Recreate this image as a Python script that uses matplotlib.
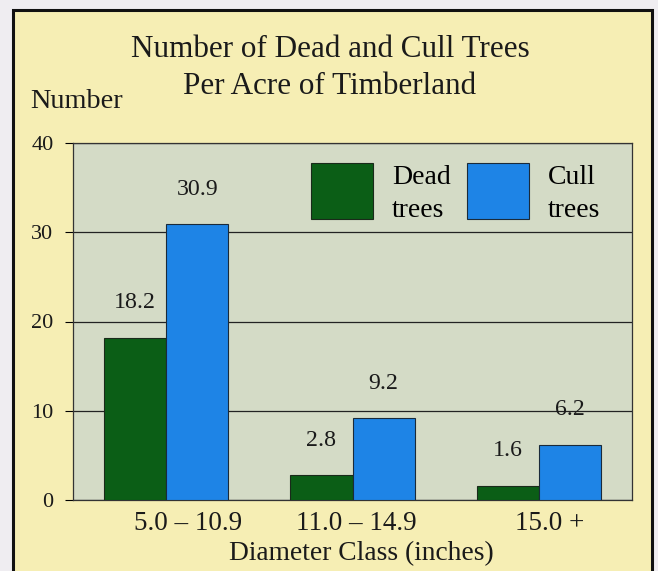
import matplotlib
matplotlib.use("Agg")
import matplotlib.pyplot as plt
from matplotlib.patches import Rectangle, Patch
import numpy as np

categories = ["5.0 – 10.9", "11.0 – 14.9", "15.0 +"]
dead_trees = [18.2, 2.8, 1.6]
cull_trees = [30.9, 9.2, 6.2]
series_names = ["Dead\ntrees", "Cull\ntrees"]
yticks = [0, 10, 20, 30, 40]

plt.rcParams['font.family'] = ['Liberation Serif', 'DejaVu Serif']

W, H = 658, 571
fig = plt.figure(figsize=(W / 100, H / 100), dpi=100)
fig.patch.set_facecolor('#EFEDF1')

# yellow panel with black border
fig.patches.append(Rectangle((13 / W, -0.05), (652 - 13) / W, (H - 10) / H + 0.05,
                             transform=fig.transFigure, facecolor='#F6EEB4',
                             edgecolor='#111111', linewidth=2.2, zorder=-10))

ax = fig.add_axes([73 / W, 1 - 500 / H, (632 - 73) / W, (500 - 143) / H])
ax.set_zorder(1)
ax.set_facecolor('#D4DBC6')

x = np.arange(len(categories))
w = 1 / 3
green = '#0B5E16'
blue = '#1E84E6'
b1 = ax.bar(x - w / 2, dead_trees, width=w, color=green, edgecolor='#1a2a1a', linewidth=0.8, zorder=3)
b2 = ax.bar(x + w / 2, cull_trees, width=w, color=blue, edgecolor='#1a2a3a', linewidth=0.8, zorder=3)

for bars, vals in ((b1, dead_trees), (b2, cull_trees)):
    for r, v in zip(bars, vals):
        ax.annotate(f"{v:.1f}", (r.get_x() + r.get_width() / 2, v), xytext=(0, 25),
                    textcoords='offset points', ha='center', va='center', fontsize=17.2,
                    color='#1a1a1a', zorder=4)

ax.set_xlim(-0.5, 2.5)
ax.set_ylim(0, 40)
ax.set_yticks(yticks)
ax.set_yticklabels([str(t) for t in yticks], fontsize=16, color='#1a1a1a')
ax.tick_params(axis='y', length=6, width=0.8, pad=8)
ax.set_xticks(x + np.array([0.12, 0.02, 0.06]))
ax.set_xticklabels(categories, fontsize=19.5, color='#1a1a1a')
ax.tick_params(axis='x', length=0, pad=8)
ax.yaxis.grid(True, color='#222222', linewidth=0.9, zorder=1)
ax.set_axisbelow(True)
for s in ax.spines.values():
    s.set_color('#333333')
    s.set_linewidth(0.9)

ax.set_xlabel("Diameter Class (inches)", fontsize=19.8, color='#1a1a1a')
ax.xaxis.set_label_coords(0.515, -0.116)
ax.xaxis.label.set_va('top')

fig.text(330 / W, 1 - 68 / H, "Number of Dead and Cull Trees\nPer Acre of Timberland",
         ha='center', va='center', fontsize=22.4, color='#1a1a1a', linespacing=1.32)
fig.text(30 / W, 1 - 101 / H, "Number", ha='left', va='center', fontsize=20.3, color='#1a1a1a')

handles = [Patch(facecolor=green, edgecolor='#1a2a1a', linewidth=0.8),
           Patch(facecolor=blue, edgecolor='#1a2a3a', linewidth=0.8)]
leg = ax.legend(handles, series_names, ncol=2, loc='upper left', bbox_to_anchor=(0.426, 0.95),
                frameon=False, fontsize=20, handlelength=2.23, handleheight=2.75,
                handletextpad=0.68, columnspacing=0.58, borderpad=0, borderaxespad=0)
for t in leg.get_texts():
    t.set_linespacing(1.42)
    t.set_y(-4)

fig.savefig("out.png", dpi=100, facecolor=fig.get_facecolor())
